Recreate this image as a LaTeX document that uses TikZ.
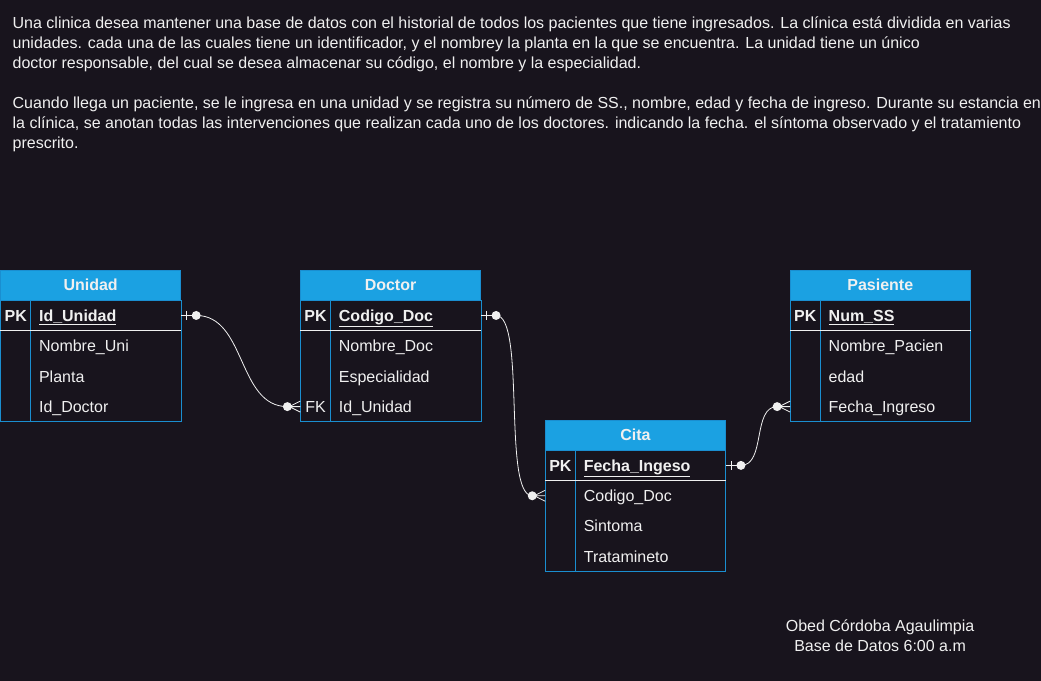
\documentclass[tikz,border=0pt]{standalone}
\usepackage{fontspec}
\setmainfont{Liberation Sans}
\usetikzlibrary{positioning}
\definecolor{bgdark}{HTML}{18141D}
\definecolor{hdblue}{HTML}{1BA1E2}
\definecolor{lnblue}{HTML}{1A8ED0}
\definecolor{txt}{HTML}{F0F0F0}

\begin{document}
\begin{tikzpicture}[x=1pt, y=-1pt, font=\fontsize{16}{20}\selectfont, text=txt,
    head/.style={fill=hdblue, draw=lnblue, minimum width=180pt, minimum height=30pt,
        inner sep=0pt, anchor=north west, text height=11.6pt, text depth=-3pt,
        font=\fontsize{16}{20}\selectfont\bfseries},
    key/.style={minimum width=30pt, minimum height=30pt, inner sep=0pt, text height=11.6pt, text depth=0pt},
    pk/.style={key, font=\fontsize{16}{20}\selectfont\bfseries},
    attr/.style={minimum height=30pt, text width=134pt, inner xsep=8pt, inner ysep=0pt, align=left,
        text height=11.6pt, text depth=0pt},
    frame/.style={draw=lnblue, line width=1pt},
    sepline/.style={draw=txt, line width=1pt},
    rel/.style={draw=txt, line width=0.8pt},
    onebar/.pic={\draw[rel] (0,0) -- (15,0) (5,-4.5) -- (5,4.5);
        \fill[txt] (15,0) circle (4.5pt);},
    crowfoot/.pic={\draw[rel] (-13,0) -- (0,0) (-11,0) -- (0,-5.5) (-11,0) -- (0,5.5);
        \fill[txt] (-13,0) circle (4.5pt);}]

    % background
    \fill[bgdark] (0,0) rectangle (1041,681);

    % statement
    \node[anchor=north west, align=left, inner sep=0pt] (intro) at (12,17) {Una clinica desea mantener una base de datos con el historial de todos los pacientes que tiene ingresados. La clínica está dividida en varias\\
    unidades. cada una de las cuales tiene un identificador, y el nombrey la planta en la que se encuentra. La unidad tiene un único\\
    doctor responsable, del cual se desea almacenar su código, el nombre y la especialidad.\\[20pt]
    Cuando llega un paciente, se le ingresa en una unidad y se registra su número de SS., nombre, edad y fecha de ingreso. Durante su estancia en\\
    la clínica, se anotan todas las intervenciones que realizan cada uno de los doctores. indicando la fecha. el síntoma observado y el tratamiento\\
    prescrito.};

    % Unidad
    \node[head] (uni) at (0,270) {Unidad};
    \node[pk, below right=0pt and 0pt of uni.south west] (uni-k1) {PK};
    \node[attr, right=0pt of uni-k1] (uni-1) {\textbf{\underline{Id\_Unidad}}};
    \foreach \k/\a [count=\i from 2, evaluate=\i as \j using int(\i-1)] in {/Nombre\_Uni, /Planta, /Id\_Doctor} {
        \node[key, below=0pt of uni-k\j] (uni-k\i) {\k};
        \node[attr, right=0pt of uni-k\i] (uni-\i) {\a};
    }
    \draw[frame] (uni.south west) rectangle (uni-4.south east);
    \draw[frame] (uni-k1.north east) -- (uni-k4.south east);
    \draw[sepline] (uni-k1.south west) -- (uni-1.south east);

    % Doctor
    \node[head] (doc) at (300,270) {Doctor};
    \node[pk, below right=0pt and 0pt of doc.south west] (doc-k1) {PK};
    \node[attr, right=0pt of doc-k1] (doc-1) {\textbf{\underline{Codigo\_Doc}}};
    \foreach \k/\a [count=\i from 2, evaluate=\i as \j using int(\i-1)] in {/Nombre\_Doc, /Especialidad, FK/Id\_Unidad} {
        \node[key, below=0pt of doc-k\j] (doc-k\i) {\k};
        \node[attr, right=0pt of doc-k\i] (doc-\i) {\a};
    }
    \draw[frame] (doc.south west) rectangle (doc-4.south east);
    \draw[frame] (doc-k1.north east) -- (doc-k4.south east);
    \draw[sepline] (doc-k1.south west) -- (doc-1.south east);

    % Cita
    \node[head] (cita) at (545,420) {Cita};
    \node[pk, below right=0pt and 0pt of cita.south west] (cita-k1) {PK};
    \node[attr, right=0pt of cita-k1] (cita-1) {\textbf{\underline{Fecha\_Ingeso}}};
    \foreach \k/\a [count=\i from 2, evaluate=\i as \j using int(\i-1)] in {/Codigo\_Doc, /Sintoma, /Tratamineto} {
        \node[key, below=0pt of cita-k\j] (cita-k\i) {\k};
        \node[attr, right=0pt of cita-k\i] (cita-\i) {\a};
    }
    \draw[frame] (cita.south west) rectangle (cita-4.south east);
    \draw[frame] (cita-k1.north east) -- (cita-k4.south east);
    \draw[sepline] (cita-k1.south west) -- (cita-1.south east);

    % Pasiente
    \node[head] (pac) at (790,270) {Pasiente};
    \node[pk, below right=0pt and 0pt of pac.south west] (pac-k1) {PK};
    \node[attr, right=0pt of pac-k1] (pac-1) {\textbf{\underline{Num\_SS}}};
    \foreach \k/\a [count=\i from 2, evaluate=\i as \j using int(\i-1)] in {/Nombre\_Pacien, /edad, /Fecha\_Ingreso} {
        \node[key, below=0pt of pac-k\j] (pac-k\i) {\k};
        \node[attr, right=0pt of pac-k\i] (pac-\i) {\a};
    }
    \draw[frame] (pac.south west) rectangle (pac-4.south east);
    \draw[frame] (pac-k1.north east) -- (pac-k4.south east);
    \draw[sepline] (pac-k1.south west) -- (pac-1.south east);

    % relations
    \draw[rel] ([xshift=15pt]uni-1.east) .. controls +(50,0) and +(-50,0) .. ([xshift=-13pt]doc-k4.west);
    \pic at (uni-1.east) {onebar};
    \pic at (doc-k4.west) {crowfoot};
    \draw[rel] ([xshift=15pt]doc-1.east) .. controls +(30,0) and +(-30,0) .. ([xshift=-13pt]cita-k2.west);
    \pic at (doc-1.east) {onebar};
    \pic at (cita-k2.west) {crowfoot};
    \draw[rel] ([xshift=15pt]cita-1.east) .. controls +(25,0) and +(-25,0) .. ([xshift=-13pt]pac-k4.west);
    \pic at (cita-1.east) {onebar};
    \pic at (pac-k4.west) {crowfoot};

    % author
    \node[align=center, inner sep=0pt] (firma) at (880,636) {Obed Córdoba Agaulimpia\\ Base de Datos 6:00 a.m};
\end{tikzpicture}
\end{document}
